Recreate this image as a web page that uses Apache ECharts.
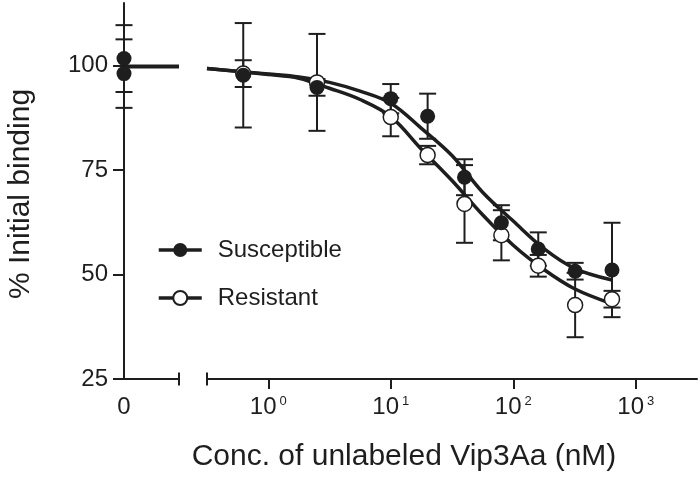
<!DOCTYPE html>
<html><head><meta charset="utf-8">
<script src="https://cdn.jsdelivr.net/npm/echarts@6/dist/echarts.min.js"></script>
<style>html,body{margin:0;padding:0;background:#fff}#c{width:700px;height:477px}</style>
</head><body><div id="c"></div>
<script>
// ---- data ----
const concs = [0.625, 2.5, 10, 20, 40, 80, 160, 320, 640];          // nM
const susMean = [97.7, 94.8, 92.1, 87.9, 73.3, 62.4, 56.1, 50.8, 51.1];
const susErr  = [12.5, 2.0, 3.5, 5.4, 4.3, 4.2, 4.0, 2.0, 11.3];
const resMean = [98.1, 96.0, 87.7, 78.6, 66.9, 59.4, 52.1, 42.7, 44.1];
const resErr  = [3.2, 11.6, 4.6, 2.2, 9.3, 6.0, 2.6, 7.7, 2.0];
const zeroSus = 101.7, zeroSusErr = 8.0;
const zeroRes = 98.1,  zeroResErr = 8.2;
const zeroLine = 99.8;
// fitted curves
const curveConc = [0.316, 1, 1.78, 3.16, 5.62, 10, 17.8, 31.6, 56.2, 100, 178, 316, 640];
const susCurve  = [99.3, 98.0, 97.3, 96.0, 93.9, 91.0, 85.0, 78.5, 69.7, 62.8, 56.2, 51.5, 48.7];
const resCurve  = [99.3, 97.9, 97.0, 94.6, 91.9, 87.8, 80.0, 72.5, 64.3, 57.0, 51.2, 46.6, 43.0];
const yTicks = [25, 50, 75, 100];
const xTicks = [1, 10, 100, 1000];
const xMin = Math.pow(10, -0.5), xMax = Math.pow(10, 3.5);

const FONT = "'Liberation Sans', Arial, sans-serif";
const INK = '#1e1e1e';

const chart = echarts.init(document.getElementById('c'), null, {renderer: 'canvas'});

function errData(xs, m, e) { return xs.map((x, i) => [x, m[i] - e[i], m[i] + e[i]]); }
function errSeries(name, xi, data) {
  return {
    type: 'custom', name: name, xAxisIndex: xi, yAxisIndex: xi, z: 3,
    encode: {x: 0, y: [1, 2]},
    data: data,
    renderItem: function (params, api) {
      const x = api.value(0), lo = api.value(1), hi = api.value(2);
      const a = api.coord([x, lo]), b = api.coord([x, hi]);
      const hw = 8.5;
      const st = {stroke: INK, lineWidth: 2};
      return {type: 'group', children: [
        {type: 'line', shape: {x1: a[0], y1: a[1], x2: b[0], y2: b[1]}, style: st},
        {type: 'line', shape: {x1: a[0] - hw, y1: a[1], x2: a[0] + hw, y2: a[1]}, style: st},
        {type: 'line', shape: {x1: b[0] - hw, y1: b[1], x2: b[0] + hw, y2: b[1]}, style: st}
      ]};
    }
  };
}

const yAxisBase = {
  type: 'value', min: 25, max: 115, interval: 25
};

const option = {
  animation: false,
  backgroundColor: '#fff',
  textStyle: {fontFamily: FONT},
  grid: [
    {left: 124, right: 521, top: 3, bottom: 98},
    {left: 207, right: 3, top: 3, bottom: 98}
  ],
  xAxis: [
    {gridIndex: 0, type: 'value', min: 0, max: 1,
     axisLine: {show: true, lineStyle: {color: INK, width: 2}},
     axisTick: {show: false},
     splitLine: {show: false},
     axisLabel: {customValues: [0], formatter: () => '0', fontSize: 24, color: INK, fontFamily: FONT, margin: 16}
    },
    {gridIndex: 1, type: 'log', logBase: 10, min: xMin, max: xMax,
     axisLine: {show: true, lineStyle: {color: INK, width: 2}},
     axisTick: {show: true, customValues: xTicks, length: 10, lineStyle: {color: INK, width: 2}},
     splitLine: {show: false},
     axisLabel: {
       customValues: xTicks, color: INK, fontFamily: FONT, margin: 16,
       formatter: function (v) { return '{b|10}{e|' + Math.round(Math.log10(v)) + '}'; },
       rich: {
         b: {fontSize: 24, fontFamily: FONT, color: INK},
         e: {fontSize: 13, fontFamily: FONT, color: INK, verticalAlign: 'top', padding: [0, 0, 0, 3]}
       }
     }
    }
  ],
  yAxis: [
    Object.assign({}, yAxisBase, {gridIndex: 0,
      axisLine: {show: true, lineStyle: {color: INK, width: 2}},
      axisTick: {show: true, customValues: yTicks, length: 11, lineStyle: {color: INK, width: 2}},
      axisLabel: {customValues: yTicks, fontSize: 24, color: INK, fontFamily: FONT, margin: 16},
      splitLine: {show: false}
    }),
    Object.assign({}, yAxisBase, {gridIndex: 1, show: false, splitLine: {show: false}})
  ],
  legend: {
    orient: 'vertical', left: 152, top: 233,
    itemWidth: 43, itemHeight: 17.5, itemGap: 24,
    data: ['Susceptible', 'Resistant'],
    lineStyle: {width: 3.5, color: INK},
    textStyle: {fontSize: 24, color: INK, fontFamily: FONT, padding: [0, 0, 0, 11]},
    selectedMode: false
  },
  series: [
    // fitted curves (also provide legend icons)
    {type: 'line', name: 'Susceptible', xAxisIndex: 1, yAxisIndex: 1, smooth: 0.35,
     symbol: 'circle', symbolSize: 15, showSymbol: false, z: 2,
     itemStyle: {color: INK, opacity: 1},
     lineStyle: {color: INK, width: 3.5},
     data: curveConc.map((c, i) => [c, susCurve[i]])},
    {type: 'line', name: 'Resistant', xAxisIndex: 1, yAxisIndex: 1, smooth: 0.35,
     symbol: 'circle', symbolSize: 15, showSymbol: false, z: 2,
     itemStyle: {color: '#fff', borderColor: INK, borderWidth: 1.5, opacity: 1},
     lineStyle: {color: INK, width: 3.5},
     data: curveConc.map((c, i) => [c, resCurve[i]])},
    // zero-concentration plateau line
    {type: 'line', name: 'zero', xAxisIndex: 0, yAxisIndex: 0, showSymbol: false, z: 2,
     lineStyle: {color: INK, width: 4}, data: [[0, zeroLine], [1, zeroLine]]},
    // error bars
    errSeries('errR', 1, errData(concs, resMean, resErr)),
    errSeries('errS', 1, errData(concs, susMean, susErr)),
    errSeries('errR0', 0, [[0, zeroRes - zeroResErr, zeroRes + zeroResErr]]),
    errSeries('errS0', 0, [[0, zeroSus - zeroSusErr, zeroSus + zeroSusErr]]),
    // markers
    {type: 'scatter', name: 'ptsR', xAxisIndex: 1, yAxisIndex: 1, clip: false, z: 4,
     symbol: 'circle', symbolSize: 15,
     itemStyle: {color: '#fff', borderColor: INK, borderWidth: 1.5, opacity: 1},
     data: concs.map((c, i) => [c, resMean[i]])},
    {type: 'scatter', name: 'ptsS', xAxisIndex: 1, yAxisIndex: 1, clip: false, z: 5,
     symbol: 'circle', symbolSize: 15, itemStyle: {color: INK, opacity: 1},
     data: concs.map((c, i) => [c, susMean[i]])},
    {type: 'scatter', name: 'ptsR0', xAxisIndex: 0, yAxisIndex: 0, clip: false, z: 4,
     symbol: 'circle', symbolSize: 15, itemStyle: {color: INK, opacity: 1},
     data: [[0, zeroRes]]},
    {type: 'scatter', name: 'ptsS0', xAxisIndex: 0, yAxisIndex: 0, clip: false, z: 5,
     symbol: 'circle', symbolSize: 15, itemStyle: {color: INK, opacity: 1},
     data: [[0, zeroSus]]}
  ]
};
chart.setOption(option);

// axis break caps and titles
const pL = chart.convertToPixel({xAxisIndex: 0, yAxisIndex: 0}, [1, 25]);
const pR = chart.convertToPixel({xAxisIndex: 1, yAxisIndex: 1}, [xMin, 25]);
chart.setOption({
  graphic: [
    {type: 'line', shape: {x1: pL[0], y1: pL[1] - 6.5, x2: pL[0], y2: pL[1] + 6.5}, style: {stroke: INK, lineWidth: 2}},
    {type: 'line', shape: {x1: pR[0], y1: pR[1] - 6.5, x2: pR[0], y2: pR[1] + 6.5}, style: {stroke: INK, lineWidth: 2}},
    {type: 'text', x: 21, y: 194, rotation: Math.PI / 2,
     style: {text: '% Initial binding', font: '30px ' + FONT, fill: INK, align: 'center', verticalAlign: 'middle'}},
    {type: 'text', x: 404, y: 457,
     style: {text: 'Conc. of unlabeled Vip3Aa (nM)', font: '30px ' + FONT, fill: INK, align: 'center', verticalAlign: 'middle'}}
  ]
});
</script>
</body></html>
